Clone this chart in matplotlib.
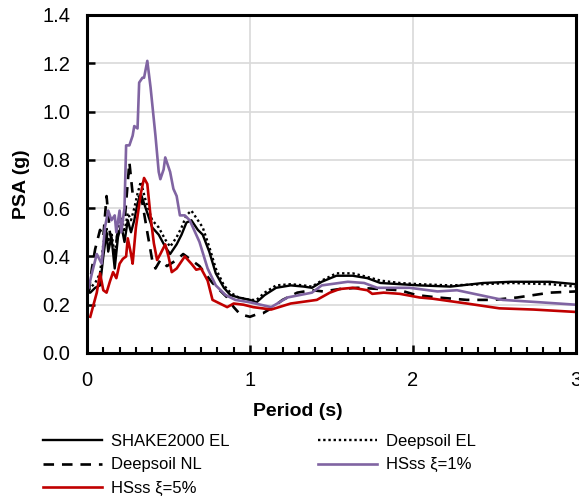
import matplotlib
matplotlib.use("Agg")
import matplotlib.pyplot as plt
from matplotlib.ticker import MultipleLocator

plt.rcParams['font.family'] = ['Liberation Sans', 'DejaVu Sans']

# ---- data (period in s, PSA in g) ----
T_shake = [0.01, 0.02, 0.05, 0.08, 0.10, 0.12, 0.13, 0.15, 0.17, 0.19, 0.21, 0.23, 0.25, 0.27, 0.29,
           0.31, 0.33, 0.36, 0.40, 0.44, 0.48, 0.51, 0.55, 0.58, 0.61, 0.64, 0.68, 0.71, 0.75, 0.79,
           0.84, 0.88, 0.93, 1.00, 1.04, 1.09, 1.16, 1.25, 1.33, 1.38, 1.44, 1.53, 1.63, 1.72, 1.80,
           1.92, 2.04, 2.23, 2.43, 2.60, 2.84, 3.00]
PSA_shake = [0.25, 0.25, 0.27, 0.28, 0.40, 0.50, 0.42, 0.48, 0.35, 0.48, 0.53, 0.46, 0.55, 0.50, 0.55,
             0.62, 0.66, 0.60, 0.52, 0.49, 0.44, 0.41, 0.45, 0.49, 0.54, 0.55, 0.51, 0.49, 0.42, 0.33,
             0.27, 0.24, 0.23, 0.22, 0.21, 0.24, 0.27, 0.28, 0.275, 0.27, 0.295, 0.32, 0.32, 0.31, 0.29,
             0.285, 0.28, 0.275, 0.29, 0.295, 0.295, 0.285]

T_dsel = [0.01, 0.02, 0.05, 0.08, 0.10, 0.12, 0.13, 0.15, 0.17, 0.19, 0.21, 0.23, 0.25, 0.27, 0.29,
          0.31, 0.33, 0.36, 0.40, 0.44, 0.48, 0.51, 0.55, 0.58, 0.61, 0.64, 0.68, 0.71, 0.75, 0.79,
          0.84, 0.88, 0.93, 1.00, 1.04, 1.09, 1.16, 1.25, 1.33, 1.38, 1.44, 1.53, 1.63, 1.72, 1.80,
          1.92, 2.04, 2.23, 2.43, 2.60, 2.84, 3.00]
PSA_dsel = [0.26, 0.27, 0.29, 0.33, 0.45, 0.52, 0.46, 0.50, 0.40, 0.52, 0.56, 0.50, 0.58, 0.55, 0.60,
            0.66, 0.71, 0.63, 0.55, 0.52, 0.47, 0.44, 0.48, 0.52, 0.57, 0.59, 0.55, 0.52, 0.44, 0.35,
            0.28, 0.25, 0.23, 0.22, 0.22, 0.25, 0.28, 0.285, 0.28, 0.275, 0.30, 0.33, 0.33, 0.315, 0.30,
            0.29, 0.285, 0.28, 0.285, 0.29, 0.285, 0.275]

T_dsnl = [0.01, 0.03, 0.05, 0.08, 0.10, 0.12, 0.14, 0.17, 0.20, 0.23, 0.26, 0.28, 0.31, 0.34, 0.37,
          0.40, 0.42, 0.45, 0.49, 0.55, 0.59, 0.63, 0.69, 0.77, 0.86, 0.90, 0.94, 1.00, 1.04, 1.08,
          1.13, 1.20, 1.29, 1.38, 1.45, 1.55, 1.66, 1.80, 1.92, 2.02, 2.15, 2.33, 2.49, 2.64, 2.84, 3.00]
PSA_dsnl = [0.25, 0.35, 0.43, 0.51, 0.48, 0.65, 0.50, 0.41, 0.56, 0.54, 0.79, 0.66, 0.66, 0.62, 0.50,
            0.385, 0.35, 0.385, 0.36, 0.385, 0.41, 0.39, 0.36, 0.29, 0.23, 0.19, 0.16, 0.15, 0.16, 0.165,
            0.185, 0.22, 0.25, 0.26, 0.255, 0.265, 0.27, 0.265, 0.26, 0.24, 0.23, 0.22, 0.22, 0.23, 0.25, 0.255]

T_hs1 = [0.01, 0.03, 0.06, 0.09, 0.11, 0.13, 0.15, 0.17, 0.18, 0.20, 0.21, 0.23, 0.24, 0.26, 0.28,
         0.29, 0.31, 0.32, 0.34, 0.35, 0.37, 0.39, 0.42, 0.44, 0.45, 0.47, 0.48, 0.51, 0.53, 0.55,
         0.57, 0.60, 0.63, 0.69, 0.74, 0.79, 0.85, 0.91, 1.00, 1.13, 1.23, 1.38, 1.44, 1.60, 1.70,
         1.78, 1.98, 2.15, 2.27, 2.55, 2.78, 3.00]
PSA_hs1 = [0.27, 0.33, 0.41, 0.37, 0.52, 0.59, 0.55, 0.57, 0.50, 0.59, 0.50, 0.60, 0.86, 0.86, 0.90,
           0.94, 0.93, 1.12, 1.14, 1.14, 1.21, 1.10, 0.90, 0.75, 0.72, 0.76, 0.81, 0.75, 0.68, 0.65,
           0.57, 0.57, 0.55, 0.46, 0.35, 0.28, 0.24, 0.22, 0.21, 0.19, 0.23, 0.25, 0.28, 0.295, 0.29,
           0.27, 0.27, 0.255, 0.26, 0.22, 0.21, 0.20]

T_hs5 = [0.02, 0.06, 0.08, 0.10, 0.12, 0.14, 0.16, 0.18, 0.20, 0.22, 0.24, 0.25, 0.27, 0.28, 0.30,
         0.33, 0.35, 0.37, 0.39, 0.41, 0.43, 0.45, 0.48, 0.50, 0.52, 0.55, 0.60, 0.64, 0.67, 0.70,
         0.74, 0.77, 0.86, 0.90, 0.96, 1.02, 1.13, 1.25, 1.41, 1.49, 1.55, 1.63, 1.72, 1.75, 1.82,
         1.92, 2.04, 2.12, 2.33, 2.53, 2.74, 3.00]
PSA_hs5 = [0.15, 0.25, 0.33, 0.26, 0.25, 0.295, 0.335, 0.31, 0.37, 0.39, 0.40, 0.475, 0.41, 0.37, 0.52,
           0.66, 0.725, 0.70, 0.565, 0.455, 0.385, 0.41, 0.45, 0.40, 0.335, 0.35, 0.40, 0.37, 0.345, 0.35,
           0.30, 0.22, 0.19, 0.205, 0.20, 0.19, 0.18, 0.205, 0.22, 0.25, 0.265, 0.27, 0.26, 0.245, 0.25,
           0.245, 0.23, 0.225, 0.205, 0.185, 0.18, 0.17]

x_ticks = [0, 1, 2, 3]
y_ticks = [0.0, 0.2, 0.4, 0.6, 0.8, 1.0, 1.2, 1.4]

W, H = 579, 497
fig = plt.figure(figsize=(W / 100, H / 100), dpi=100)
ax = fig.add_axes([87 / W, 1 - 353 / H, (576 - 87) / W, (353 - 15) / H])

h_shake, = ax.plot(T_shake, PSA_shake, color='black', lw=1.7, ls='-', label='SHAKE2000 EL')
h_dsel, = ax.plot(T_dsel, PSA_dsel, color='black', lw=1.7, ls=(0, (1, 1.2)), label='Deepsoil EL')
h_dsnl, = ax.plot(T_dsnl, PSA_dsnl, color='black', lw=1.9, ls=(0, (4, 3)), label='Deepsoil NL')
h_hs1, = ax.plot(T_hs1, PSA_hs1, color='#8064a2', lw=1.9, ls='-', label='HSss ξ=1%')
h_hs5, = ax.plot(T_hs5, PSA_hs5, color='#c00000', lw=1.9, ls='-', label='HSss ξ=5%')

ax.set_xlim(0, 3)
ax.set_ylim(0, 1.4)
ax.set_xticks(x_ticks)
ax.set_xticklabels([str(v) for v in x_ticks])
ax.set_yticks(y_ticks)
ax.set_yticklabels([f'{v:.1f}' for v in y_ticks])
ax.xaxis.set_minor_locator(MultipleLocator(0.1))
ax.grid(True, which='major', color='#d9d9d9', lw=1.2)
ax.set_axisbelow(True)
ax.tick_params(axis='both', which='major', direction='in', length=6, width=1.8,
               labelsize=14.5)
ax.tick_params(axis='y', which='major', pad=12)
ax.tick_params(axis='x', which='major', pad=13)
ax.tick_params(axis='x', which='minor', direction='in', length=4, width=1.5)
ax.tick_params(axis='y', which='minor', left=False)
for s in ax.spines.values():
    s.set_linewidth(2.2)
    s.set_color('black')

ax.set_xlabel('Period (s)', fontsize=14, fontweight='bold')
ax.set_ylabel('PSA (g)', fontsize=14, fontweight='bold')
ax.xaxis.set_label_coords((298 - 87) / (576 - 87), -(411 - 353) / (353 - 15), transform=ax.transAxes)
ax.yaxis.set_label_coords(-(87 - 22) / (576 - 87), 0.5, transform=ax.transAxes)
ax.xaxis.label.set_va('center')
ax.yaxis.label.set_va('center')

handles = [h_shake, h_dsnl, h_hs5, h_dsel, h_hs1]
leg = fig.legend(handles=handles, labels=[h.get_label() for h in handles],
                 loc='upper left', bbox_to_anchor=(43 / W, 1 - 434 / H), ncol=2,
                 frameon=False, fontsize=12, handlelength=3.55, handletextpad=0.55,
                 columnspacing=5.3, labelspacing=0.5, borderpad=0, borderaxespad=0)

fig.savefig('out.png', dpi=100)
